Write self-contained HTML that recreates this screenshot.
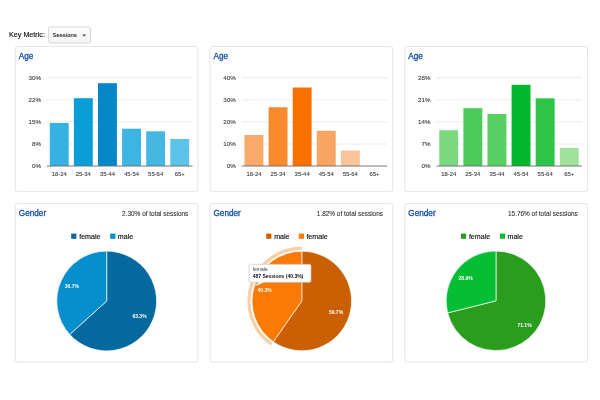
<!DOCTYPE html><html><head><meta charset="utf-8"><title>Demographics Overview</title>
<style>html,body{margin:0;padding:0;background:#fff;}body{width:600px;height:400px;overflow:hidden;}svg{display:block;filter:blur(0.35px);}text{font-family:"Liberation Sans", Arial, sans-serif;}</style></head><body>
<svg width="600" height="400" viewBox="0 0 600 400">
<defs><linearGradient id="sel" x1="0" y1="0" x2="0" y2="1"><stop offset="0" stop-color="#fcfcfc"/><stop offset="1" stop-color="#f4f4f4"/></linearGradient></defs>
<rect width="600" height="400" fill="#fff"/>
<text x="9" y="37.3" font-size="7.2" fill="#111" stroke="#111" stroke-width="0.15">Key Metric:</text>
<rect x="48.5" y="27" width="42" height="16" rx="2" ry="2" fill="url(#sel)" stroke="#d8d8d8" stroke-width="1"/>
<text x="52.5" y="37.2" font-size="6" fill="#222" stroke="#222" stroke-width="0.1">Sessions</text>
<path d="M82.2 34.4 L86.2 34.4 L84.2 36.6 Z" fill="#444"/>
<rect x="15.30" y="46.5" width="182.7" height="145" rx="2.5" ry="2.5" fill="#fff" stroke="#e8e8e8" stroke-width="1.1"/>
<rect x="15.30" y="203.5" width="182.7" height="158.5" rx="2.5" ry="2.5" fill="#fff" stroke="#e8e8e8" stroke-width="1.1"/>
<text x="18.80" y="58.9" font-size="8.2" fill="#134fa6" stroke="#134fa6" stroke-width="0.3">Age</text>
<text x="18.80" y="216.1" font-size="8.2" fill="#134fa6" stroke="#134fa6" stroke-width="0.3">Gender</text>
<line x1="47.00" y1="77.70" x2="192.50" y2="77.70" stroke="#ebebeb" stroke-width="1"/>
<line x1="47.00" y1="99.80" x2="192.50" y2="99.80" stroke="#ebebeb" stroke-width="1"/>
<line x1="47.00" y1="121.90" x2="192.50" y2="121.90" stroke="#ebebeb" stroke-width="1"/>
<line x1="47.00" y1="144.00" x2="192.50" y2="144.00" stroke="#ebebeb" stroke-width="1"/>
<text x="41.00" y="79.95" font-size="6.2" fill="#444" stroke="#444" stroke-width="0.12" text-anchor="end">30%</text>
<text x="41.00" y="102.05" font-size="6.2" fill="#444" stroke="#444" stroke-width="0.12" text-anchor="end">22%</text>
<text x="41.00" y="124.15" font-size="6.2" fill="#444" stroke="#444" stroke-width="0.12" text-anchor="end">15%</text>
<text x="41.00" y="146.25" font-size="6.2" fill="#444" stroke="#444" stroke-width="0.12" text-anchor="end">8%</text>
<text x="41.00" y="168.25" font-size="6.2" fill="#444" stroke="#444" stroke-width="0.12" text-anchor="end">0%</text>
<rect x="49.80" y="123.00" width="18.9" height="43.00" fill="#36B2E2"/>
<text x="59.25" y="175.7" font-size="5.9" fill="#444" stroke="#444" stroke-width="0.12" text-anchor="middle">18-24</text>
<rect x="73.90" y="98.20" width="18.9" height="67.80" fill="#0B9DD6"/>
<text x="83.35" y="175.7" font-size="5.9" fill="#444" stroke="#444" stroke-width="0.12" text-anchor="middle">25-34</text>
<rect x="98.00" y="83.20" width="18.9" height="82.80" fill="#0587C8"/>
<text x="107.45" y="175.7" font-size="5.9" fill="#444" stroke="#444" stroke-width="0.12" text-anchor="middle">35-44</text>
<rect x="122.10" y="128.70" width="18.9" height="37.30" fill="#3DB5E3"/>
<text x="131.55" y="175.7" font-size="5.9" fill="#444" stroke="#444" stroke-width="0.12" text-anchor="middle">45-54</text>
<rect x="146.20" y="131.30" width="18.9" height="34.70" fill="#44B8E2"/>
<text x="155.65" y="175.7" font-size="5.9" fill="#444" stroke="#444" stroke-width="0.12" text-anchor="middle">55-64</text>
<rect x="170.30" y="139.00" width="18.9" height="27.00" fill="#5CC4E8"/>
<text x="179.75" y="175.7" font-size="5.9" fill="#444" stroke="#444" stroke-width="0.12" text-anchor="middle">65+</text>
<line x1="47.00" y1="166.00" x2="192.50" y2="166.00" stroke="#666" stroke-width="0.9"/>
<rect x="210.00" y="46.5" width="182.7" height="145" rx="2.5" ry="2.5" fill="#fff" stroke="#e8e8e8" stroke-width="1.1"/>
<rect x="210.00" y="203.5" width="182.7" height="158.5" rx="2.5" ry="2.5" fill="#fff" stroke="#e8e8e8" stroke-width="1.1"/>
<text x="213.50" y="58.9" font-size="8.2" fill="#134fa6" stroke="#134fa6" stroke-width="0.3">Age</text>
<text x="213.50" y="216.1" font-size="8.2" fill="#134fa6" stroke="#134fa6" stroke-width="0.3">Gender</text>
<line x1="241.70" y1="77.70" x2="387.20" y2="77.70" stroke="#ebebeb" stroke-width="1"/>
<line x1="241.70" y1="99.80" x2="387.20" y2="99.80" stroke="#ebebeb" stroke-width="1"/>
<line x1="241.70" y1="121.90" x2="387.20" y2="121.90" stroke="#ebebeb" stroke-width="1"/>
<line x1="241.70" y1="144.00" x2="387.20" y2="144.00" stroke="#ebebeb" stroke-width="1"/>
<text x="235.70" y="79.95" font-size="6.2" fill="#444" stroke="#444" stroke-width="0.12" text-anchor="end">40%</text>
<text x="235.70" y="102.05" font-size="6.2" fill="#444" stroke="#444" stroke-width="0.12" text-anchor="end">30%</text>
<text x="235.70" y="124.15" font-size="6.2" fill="#444" stroke="#444" stroke-width="0.12" text-anchor="end">20%</text>
<text x="235.70" y="146.25" font-size="6.2" fill="#444" stroke="#444" stroke-width="0.12" text-anchor="end">10%</text>
<text x="235.70" y="168.25" font-size="6.2" fill="#444" stroke="#444" stroke-width="0.12" text-anchor="end">0%</text>
<rect x="244.50" y="135.00" width="18.9" height="31.00" fill="#F9A968"/>
<text x="253.95" y="175.7" font-size="5.9" fill="#444" stroke="#444" stroke-width="0.12" text-anchor="middle">18-24</text>
<rect x="268.60" y="107.25" width="18.9" height="58.75" fill="#F98A2C"/>
<text x="278.05" y="175.7" font-size="5.9" fill="#444" stroke="#444" stroke-width="0.12" text-anchor="middle">25-34</text>
<rect x="292.70" y="87.50" width="18.9" height="78.50" fill="#F97200"/>
<text x="302.15" y="175.7" font-size="5.9" fill="#444" stroke="#444" stroke-width="0.12" text-anchor="middle">35-44</text>
<rect x="316.80" y="130.80" width="18.9" height="35.20" fill="#F9A462"/>
<text x="326.25" y="175.7" font-size="5.9" fill="#444" stroke="#444" stroke-width="0.12" text-anchor="middle">45-54</text>
<rect x="340.90" y="150.60" width="18.9" height="15.40" fill="#F9C499"/>
<text x="350.35" y="175.7" font-size="5.9" fill="#444" stroke="#444" stroke-width="0.12" text-anchor="middle">55-64</text>
<text x="374.45" y="175.7" font-size="5.9" fill="#444" stroke="#444" stroke-width="0.12" text-anchor="middle">65+</text>
<line x1="241.70" y1="166.00" x2="387.20" y2="166.00" stroke="#666" stroke-width="0.9"/>
<rect x="404.80" y="46.5" width="182.7" height="145" rx="2.5" ry="2.5" fill="#fff" stroke="#e8e8e8" stroke-width="1.1"/>
<rect x="404.80" y="203.5" width="182.7" height="158.5" rx="2.5" ry="2.5" fill="#fff" stroke="#e8e8e8" stroke-width="1.1"/>
<text x="408.30" y="58.9" font-size="8.2" fill="#134fa6" stroke="#134fa6" stroke-width="0.3">Age</text>
<text x="408.30" y="216.1" font-size="8.2" fill="#134fa6" stroke="#134fa6" stroke-width="0.3">Gender</text>
<line x1="436.50" y1="77.70" x2="582.00" y2="77.70" stroke="#ebebeb" stroke-width="1"/>
<line x1="436.50" y1="99.80" x2="582.00" y2="99.80" stroke="#ebebeb" stroke-width="1"/>
<line x1="436.50" y1="121.90" x2="582.00" y2="121.90" stroke="#ebebeb" stroke-width="1"/>
<line x1="436.50" y1="144.00" x2="582.00" y2="144.00" stroke="#ebebeb" stroke-width="1"/>
<text x="430.50" y="79.95" font-size="6.2" fill="#444" stroke="#444" stroke-width="0.12" text-anchor="end">28%</text>
<text x="430.50" y="102.05" font-size="6.2" fill="#444" stroke="#444" stroke-width="0.12" text-anchor="end">21%</text>
<text x="430.50" y="124.15" font-size="6.2" fill="#444" stroke="#444" stroke-width="0.12" text-anchor="end">14%</text>
<text x="430.50" y="146.25" font-size="6.2" fill="#444" stroke="#444" stroke-width="0.12" text-anchor="end">7%</text>
<text x="430.50" y="168.25" font-size="6.2" fill="#444" stroke="#444" stroke-width="0.12" text-anchor="end">0%</text>
<rect x="439.30" y="130.25" width="18.9" height="35.75" fill="#7BD87F"/>
<text x="448.75" y="175.7" font-size="5.9" fill="#444" stroke="#444" stroke-width="0.12" text-anchor="middle">18-24</text>
<rect x="463.40" y="108.20" width="18.9" height="57.80" fill="#4CCB5B"/>
<text x="472.85" y="175.7" font-size="5.9" fill="#444" stroke="#444" stroke-width="0.12" text-anchor="middle">25-34</text>
<rect x="487.50" y="114.00" width="18.9" height="52.00" fill="#58CE63"/>
<text x="496.95" y="175.7" font-size="5.9" fill="#444" stroke="#444" stroke-width="0.12" text-anchor="middle">35-44</text>
<rect x="511.60" y="84.80" width="18.9" height="81.20" fill="#04B82E"/>
<text x="521.05" y="175.7" font-size="5.9" fill="#444" stroke="#444" stroke-width="0.12" text-anchor="middle">45-54</text>
<rect x="535.70" y="98.30" width="18.9" height="67.70" fill="#2EC349"/>
<text x="545.15" y="175.7" font-size="5.9" fill="#444" stroke="#444" stroke-width="0.12" text-anchor="middle">55-64</text>
<rect x="559.80" y="148.00" width="18.9" height="18.00" fill="#9EE29C"/>
<text x="569.25" y="175.7" font-size="5.9" fill="#444" stroke="#444" stroke-width="0.12" text-anchor="middle">65+</text>
<line x1="436.50" y1="166.00" x2="582.00" y2="166.00" stroke="#666" stroke-width="0.9"/>
<text x="188.30" y="215.8" font-size="6.45" fill="#333" stroke="#333" stroke-width="0.1" text-anchor="end">2.30% of total sessions</text>
<rect x="71.20" y="233.6" width="5.2" height="5.2" fill="#05699F"/>
<text x="79.20" y="238.9" font-size="7.1" fill="#111" stroke="#111" stroke-width="0.15">female</text>
<rect x="110.20" y="233.6" width="5.2" height="5.2" fill="#078ECD"/>
<text x="117.80" y="238.9" font-size="7.1" fill="#111" stroke="#111" stroke-width="0.15">male</text>
<path d="M106.70 301.00 L106.70 251.10 A49.90 49.90 0 1 1 69.69 334.47 Z" fill="#05699F" stroke="#fff" stroke-opacity="0.85" stroke-width="0.8" stroke-linejoin="round"/>
<path d="M106.70 301.00 L69.69 334.47 A49.90 49.90 0 0 1 106.70 251.10 Z" fill="#078ECD" stroke="#fff" stroke-opacity="0.85" stroke-width="0.8" stroke-linejoin="round"/>
<text x="139.50" y="318.30" font-size="5" font-weight="bold" fill="#fff" text-anchor="middle">63.3%</text>
<text x="71.90" y="287.90" font-size="5" font-weight="bold" fill="#fff" text-anchor="middle">36.7%</text>
<text x="383.00" y="215.8" font-size="6.45" fill="#333" stroke="#333" stroke-width="0.1" text-anchor="end">1.82% of total sessions</text>
<rect x="266.20" y="233.6" width="5.2" height="5.2" fill="#CA5F03"/>
<text x="274.20" y="238.9" font-size="7.1" fill="#111" stroke="#111" stroke-width="0.15">male</text>
<rect x="298.80" y="233.6" width="5.2" height="5.2" fill="#F97A05"/>
<text x="306.40" y="238.9" font-size="7.1" fill="#111" stroke="#111" stroke-width="0.15">female</text>
<path d="M301.80 301.00 L301.80 251.20 A49.80 49.80 0 1 1 273.29 341.83 Z" fill="#CA5F03" stroke="#fff" stroke-opacity="0.85" stroke-width="0.8" stroke-linejoin="round"/>
<path d="M301.80 301.00 L273.29 341.83 A49.80 49.80 0 0 1 301.80 251.20 Z" fill="#F97A05" stroke="#fff" stroke-opacity="0.85" stroke-width="0.8" stroke-linejoin="round"/>
<path d="M270.66 345.61 A54.40 54.40 0 0 1 301.80 246.60 L301.80 249.70 A51.30 51.30 0 0 0 272.43 343.06 Z" fill="#FBCDA6"/>
<text x="336.00" y="314.40" font-size="5" font-weight="bold" fill="#fff" text-anchor="middle">59.7%</text>
<text x="264.70" y="292.10" font-size="5" font-weight="bold" fill="#fff" text-anchor="middle">40.3%</text>
<text x="577.80" y="215.8" font-size="6.45" fill="#333" stroke="#333" stroke-width="0.1" text-anchor="end">15.76% of total sessions</text>
<rect x="460.90" y="233.6" width="5.2" height="5.2" fill="#2A9D1F"/>
<text x="468.90" y="238.9" font-size="7.1" fill="#111" stroke="#111" stroke-width="0.15">female</text>
<rect x="499.90" y="233.6" width="5.2" height="5.2" fill="#06BE33"/>
<text x="507.50" y="238.9" font-size="7.1" fill="#111" stroke="#111" stroke-width="0.15">male</text>
<path d="M496.00 300.80 L496.00 251.00 A49.80 49.80 0 1 1 447.69 312.88 Z" fill="#2A9D1F" stroke="#fff" stroke-opacity="0.85" stroke-width="0.8" stroke-linejoin="round"/>
<path d="M496.00 300.80 L447.69 312.88 A49.80 49.80 0 0 1 496.00 251.00 Z" fill="#06BE33" stroke="#fff" stroke-opacity="0.85" stroke-width="0.8" stroke-linejoin="round"/>
<text x="524.50" y="326.50" font-size="5" font-weight="bold" fill="#fff" text-anchor="middle">71.1%</text>
<text x="465.70" y="280.00" font-size="5" font-weight="bold" fill="#fff" text-anchor="middle">28.9%</text>
<path d="M250.5 264.3 H309.5 Q311 264.3 311 265.8 V280.8 Q311 282.3 309.5 282.3 H264 L254.2 286.4 L258.4 282.3 H250.5 Q249 282.3 249 280.8 V265.8 Q249 264.3 250.5 264.3 Z" fill="#fff" stroke="#c4c4c4" stroke-width="0.7"/>
<text x="252.7" y="270.8" font-size="5" fill="#2b3a55">female</text>
<text x="252.7" y="277.8" font-size="5" font-weight="bold" fill="#111">487 Sessions (40.3%)</text>
</svg></body></html>
